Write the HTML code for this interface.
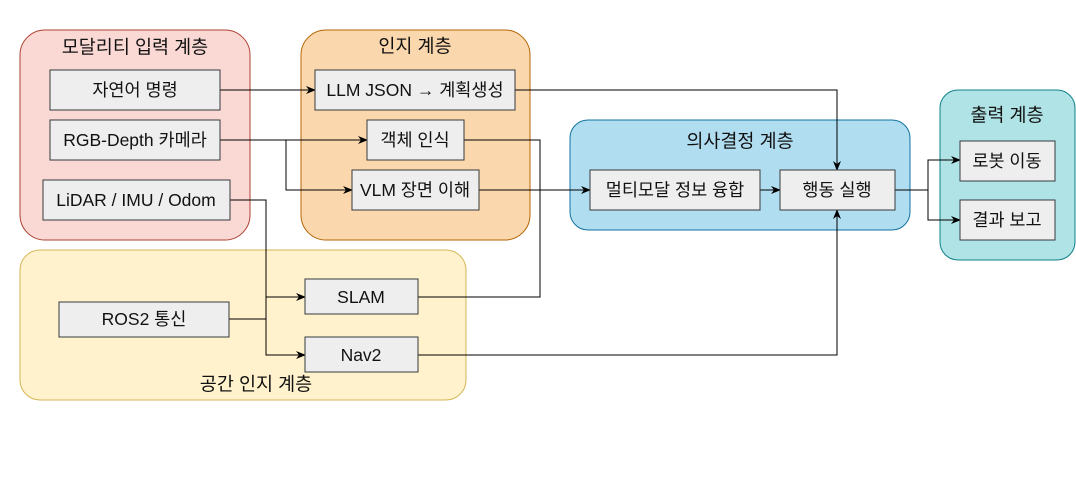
<!DOCTYPE html>
<html><head><meta charset="utf-8"><style>
html,body{margin:0;padding:0;background:#fff;}
svg{display:block}
text{font-family:"Liberation Sans","Noto Sans CJK KR",sans-serif;font-size:17.5px;fill:#111;text-anchor:middle;dominant-baseline:central}
.t{font-size:18.5px}
.b{fill:#eeeeee;stroke:#36393d;stroke-width:1}
.l{fill:none;stroke:#000;stroke-width:1}
</style></head><body>
<svg width="1076" height="490" viewBox="0 0 1076 490">
<defs><marker id="a" markerWidth="10" markerHeight="8" refX="9" refY="4" orient="auto" markerUnits="userSpaceOnUse"><path d="M0,0 L10,4 L0,8 L3,4 z" fill="#000"/></marker></defs>
<rect x="20" y="30" width="230" height="210" rx="25" fill="#fad9d5" stroke="#ae4132"/>
<text class="t" x="135" y="47">모달리티 입력 계층</text>
<rect x="301" y="30" width="229" height="210" rx="25" fill="#fad7ac" stroke="#b46504"/>
<text class="t" x="415" y="46">인지 계층</text>
<rect x="570" y="120" width="340" height="110" rx="18" fill="#b1ddf0" stroke="#10739e"/>
<text class="t" x="740" y="141">의사결정 계층</text>
<rect x="940" y="90" width="135" height="170" rx="18" fill="#b0e3e6" stroke="#0e8088"/>
<text class="t" x="1007" y="115">출력 계층</text>
<rect x="20" y="250" width="446" height="150" rx="20" fill="#fff2cc" stroke="#d6b656"/>
<text class="t" x="256" y="384">공간 인지 계층</text>

<path class="l" d="M220,90 H315" marker-end="url(#a)"/>
<path class="l" d="M220,140 H367" marker-end="url(#a)"/>
<path class="l" d="M286,140 V190 H352" marker-end="url(#a)"/>
<path class="l" d="M230,200 H266 V297 H305" marker-end="url(#a)"/>
<path class="l" d="M266,297 V355 H305" marker-end="url(#a)"/>
<path class="l" d="M229,319 H266"/>
<path class="l" d="M515,90 H837 V170" marker-end="url(#a)"/>
<path class="l" d="M464,140 H540 V297 H418"/>
<path class="l" d="M479,190 H590" marker-end="url(#a)"/>
<path class="l" d="M760,190 H780" marker-end="url(#a)"/>
<path class="l" d="M418,355 H837 V210" marker-end="url(#a)"/>
<path class="l" d="M895,190 H928 V160 H960" marker-end="url(#a)"/>
<path class="l" d="M928,190 V220 H960" marker-end="url(#a)"/>

<rect class="b" x="50" y="70" width="170" height="40"/><text x="135" y="90">자연어 명령</text>
<rect class="b" x="50" y="120" width="170" height="40"/><text x="135" y="140">RGB-Depth 카메라</text>
<rect class="b" x="43" y="180" width="187" height="40"/><text x="136" y="200">LiDAR / IMU / Odom</text>
<rect class="b" x="315" y="70" width="200" height="40"/><text x="415" y="90">LLM JSON → 계획생성</text>
<rect class="b" x="367" y="120" width="97" height="40"/><text x="415" y="140">객체 인식</text>
<rect class="b" x="352" y="170" width="127" height="40"/><text x="415" y="190">VLM 장면 이해</text>
<rect class="b" x="305" y="279" width="113" height="35"/><text x="361" y="297">SLAM</text>
<rect class="b" x="305" y="337" width="113" height="35"/><text x="361" y="355">Nav2</text>
<rect class="b" x="59" y="302" width="170" height="35"/><text x="144" y="319">ROS2 통신</text>
<rect class="b" x="590" y="170" width="170" height="40"/><text x="675" y="190">멀티모달 정보 융합</text>
<rect class="b" x="780" y="170" width="115" height="40"/><text x="837" y="190">행동 실행</text>
<rect class="b" x="960" y="141" width="95" height="40"/><text x="1007" y="161">로봇 이동</text>
<rect class="b" x="960" y="200" width="95" height="40"/><text x="1007" y="220">결과 보고</text>
</svg>
</body></html>
